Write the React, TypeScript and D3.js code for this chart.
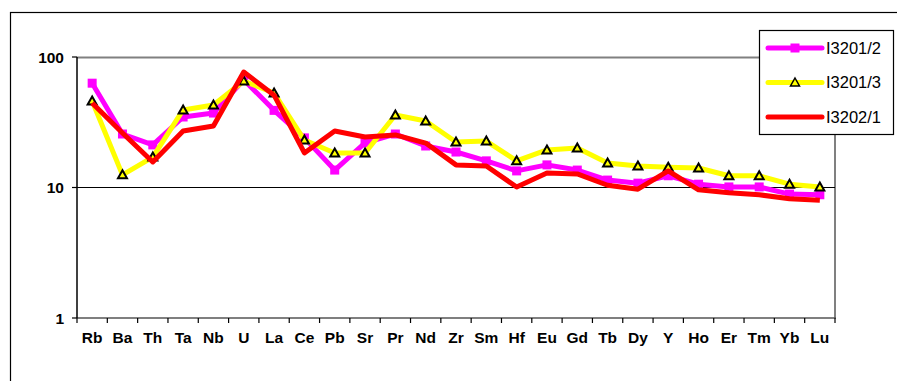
import React from "react";
import * as d3 from "d3";

const categories = ["Rb","Ba","Th","Ta","Nb","U","La","Ce","Pb","Sr","Pr","Nd","Zr","Sm","Hf","Eu","Gd","Tb","Dy","Y","Ho","Er","Tm","Yb","Lu"];
const s1Values = [63,25.7,21.2,34.7,37.2,67,39,24,13.6,22,25.7,20.8,18.7,16,13.4,14.9,13.6,11.4,10.8,12.3,10.6,10.1,10.1,8.9,8.8];
const s2Values = [46,12.5,17.1,39.3,42.9,65.5,53,23.1,18.4,18.4,35.9,32.3,22.3,22.7,16,19.4,20.1,15.4,14.6,14.3,14.1,12.3,12.3,10.6,10.1];
const s3Values = [44.4,26.2,15.7,27.1,29.6,76.7,51,18.4,27.1,24.4,25.3,21.9,14.9,14.6,10.1,12.9,12.7,10.4,9.7,13.4,9.6,9.1,8.8,8.2,8.0];
const seriesNames = ["I3201/2","I3201/3","I3202/1"];
const yTicks = [1,10,100];

export default function App() {
  const W = 897, H = 381;
  const left = 77, right = 835, top = 57, bottom = 318;
  const x = d3.scaleBand<string>().domain(categories).range([left, right]);
  const y = d3.scaleLog().domain([1,100]).range([bottom, top]);
  const cx = (c: string) => (x(c) as number) + x.bandwidth() / 2;
  const line = d3.line<number>().x((_, i) => cx(categories[i])).y(v => y(v));
  const font = "Arial, 'Liberation Sans', sans-serif";
  const tri = (px: number, py: number) => `M${px},${py-4.5}L${px+4.5},${py+3.5}L${px-4.5},${py+3.5}Z`;

  return (
    <svg width={W} height={H} style={{position:"absolute",left:0,top:0}} fontFamily={font}>
      <rect x={0} y={0} width={W} height={H} fill="#fff" />
      <rect x={10.5} y={12.5} width={900} height={400} fill="none" stroke="#000" strokeWidth={1.2} />
      {/* plot frame */}
      <line x1={left} x2={right} y1={top+0.5} y2={top+0.5} stroke="#808080" strokeWidth={2} />
      <line x1={right} x2={right} y1={top} y2={bottom} stroke="#808080" strokeWidth={2} />
      <line x1={left} x2={right} y1={y(10)} y2={y(10)} stroke="#000" strokeWidth={1.2} />
      <line x1={left} x2={right+1} y1={bottom} y2={bottom} stroke="#555" strokeWidth={1.5} />
      <line x1={left} x2={left} y1={top} y2={bottom} stroke="#000" strokeWidth={1.5} />
      {yTicks.map(t => (
        <g key={t}>
          <line x1={left-5} x2={left} y1={y(t)} y2={y(t)} stroke="#000" strokeWidth={1.2} />
          <text x={64} y={y(t)} dy="0.36em" textAnchor="end" fontSize={15.5} fontWeight="bold">{t}</text>
        </g>
      ))}
      {categories.map((c, i) => (
        <line key={"t"+i} x1={(x(c) as number)} x2={(x(c) as number)} y1={bottom} y2={bottom+5} stroke="#000" strokeWidth={1.2} />
      ))}
      <line x1={right} x2={right} y1={bottom} y2={bottom+5} stroke="#000" strokeWidth={1.2} />
      {categories.map((c) => (
        <text key={"l"+c} x={cx(c)} y={343} textAnchor="middle" fontSize={15.5} fontWeight="bold">{c}</text>
      ))}
      {/* series */}
      <path d={line(s1Values) as string} fill="none" stroke="#FF00FF" strokeWidth={5} strokeLinejoin="round" />
      {s1Values.map((v, i) => (
        <rect key={"m"+i} x={cx(categories[i])-4.5} y={y(v)-4.5} width={9} height={9} fill="#FF00FF" />
      ))}
      <path d={line(s2Values) as string} fill="none" stroke="#FFFF00" strokeWidth={5} strokeLinejoin="round" />
      {s2Values.map((v, i) => (
        <path key={"y"+i} d={tri(cx(categories[i]), y(v))} fill="#FFFF00" stroke="#000" strokeWidth={2} />
      ))}
      <path d={line(s3Values) as string} fill="none" stroke="#FF0000" strokeWidth={5} strokeLinejoin="round" />
      {/* legend */}
      <rect x={759.5} y={30.5} width={134} height={104} fill="#fff" stroke="#000" strokeWidth={1.2} />
      {seriesNames.map((n, i) => {
        const ly = 48 + i * 34.5;
        const colors = ["#FF00FF","#FFFF00","#FF0000"];
        return (
          <g key={n}>
            <line x1={768} x2={822} y1={ly} y2={ly} stroke={colors[i]} strokeWidth={5} strokeLinecap="round" />
            {i === 0 && <rect x={790.5} y={ly-4.5} width={9} height={9} fill="#FF00FF" />}
            {i === 1 && <path d={tri(795, ly)} fill="#FFFF00" stroke="#000" strokeWidth={1.5} />}
            <text x={826} y={ly} dy="0.36em" fontSize={16.5}>{n}</text>
          </g>
        );
      })}
    </svg>
  );
}
